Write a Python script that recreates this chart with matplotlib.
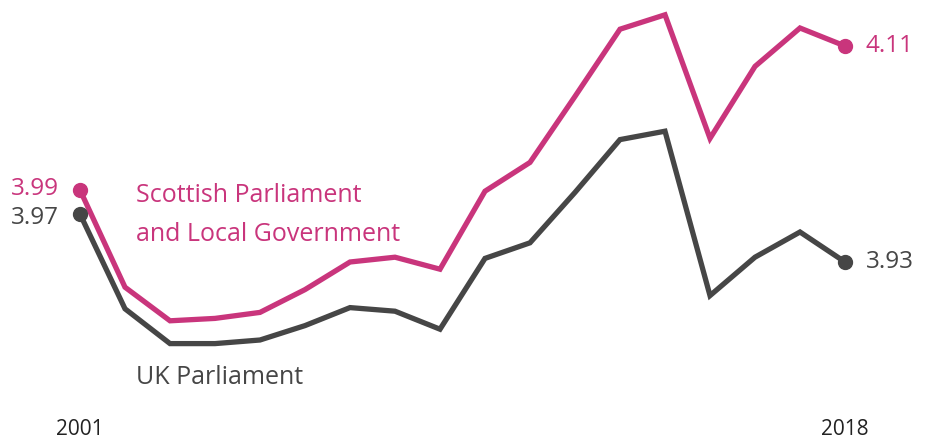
import matplotlib
matplotlib.use("Agg")
from matplotlib import pyplot as plt

years = list(range(2001, 2019))
scottish = [3.99, 3.909, 3.881, 3.883, 3.888, 3.907, 3.930, 3.934, 3.924, 3.989,
            4.013, 4.068, 4.124, 4.136, 4.033, 4.093, 4.125, 4.11]
uk = [3.97, 3.891, 3.862, 3.862, 3.865, 3.877, 3.892, 3.889, 3.874, 3.933,
      3.946, 3.988, 4.032, 4.039, 3.902, 3.934, 3.955, 3.93]

PINK = "#C9357C"
GREY = "#464646"

plt.rcParams['font.family'] = ['Open Sans', 'DejaVu Sans']

fig = plt.figure(figsize=(9.3, 4.41), dpi=100)
ax = fig.add_axes([0, 0, 1, 1])
ax.set_xlim(2001 - 80 / 45, 2018 + 85 / 45)
ax.set_ylim(3.99 - 251 / 1200, 3.99 + 190 / 1200)
ax.axis('off')

ax.plot(years, uk, color=GREY, lw=3.8, solid_joinstyle='miter', zorder=2)
ax.plot(years, scottish, color=PINK, lw=3.8, solid_joinstyle='miter', zorder=3)

# end point markers
for series, col in [(uk, GREY), (scottish, PINK)]:
    ax.plot([years[0], years[-1]], [series[0], series[-1]], 'o', color=col, ms=10, zorder=4)

# value labels at the ends
ax.annotate(f"{scottish[0]:.2f}", (years[0], scottish[0]), xytext=(-15, 0.5), textcoords='offset points',
            ha='right', va='center', color=PINK, fontsize=17.5)
ax.annotate(f"{uk[0]:.2f}", (years[0], uk[0]), xytext=(-15, -3), textcoords='offset points',
            ha='right', va='center', color=GREY, fontsize=17.5)
ax.annotate(f"{scottish[-1]:.2f}", (years[-1], scottish[-1]), xytext=(15, 0), textcoords='offset points',
            ha='left', va='center', color=PINK, fontsize=17.5)
ax.annotate(f"{uk[-1]:.2f}", (years[-1], uk[-1]), xytext=(15, 0), textcoords='offset points',
            ha='left', va='center', color=GREY, fontsize=17.5)

# series names
ax.text(136 / 930, 1 - 215 / 441, "Scottish Parliament\nand Local Government", transform=ax.transAxes,
        ha='left', va='center', color=PINK, fontsize=18, linespacing=1.72)
ax.text(136 / 930, 1 - 377 / 441, "UK Parliament", transform=ax.transAxes,
        ha='left', va='center', color=GREY, fontsize=18)

# first and last year
for yr in [years[0], years[-1]]:
    ax.annotate(str(yr), (yr, 0), xycoords=('data', 'axes fraction'), xytext=(0, 8),
                textcoords='offset points', ha='center', va='center', color='#222222', fontsize=15)

fig.savefig("out.png", dpi=100)
